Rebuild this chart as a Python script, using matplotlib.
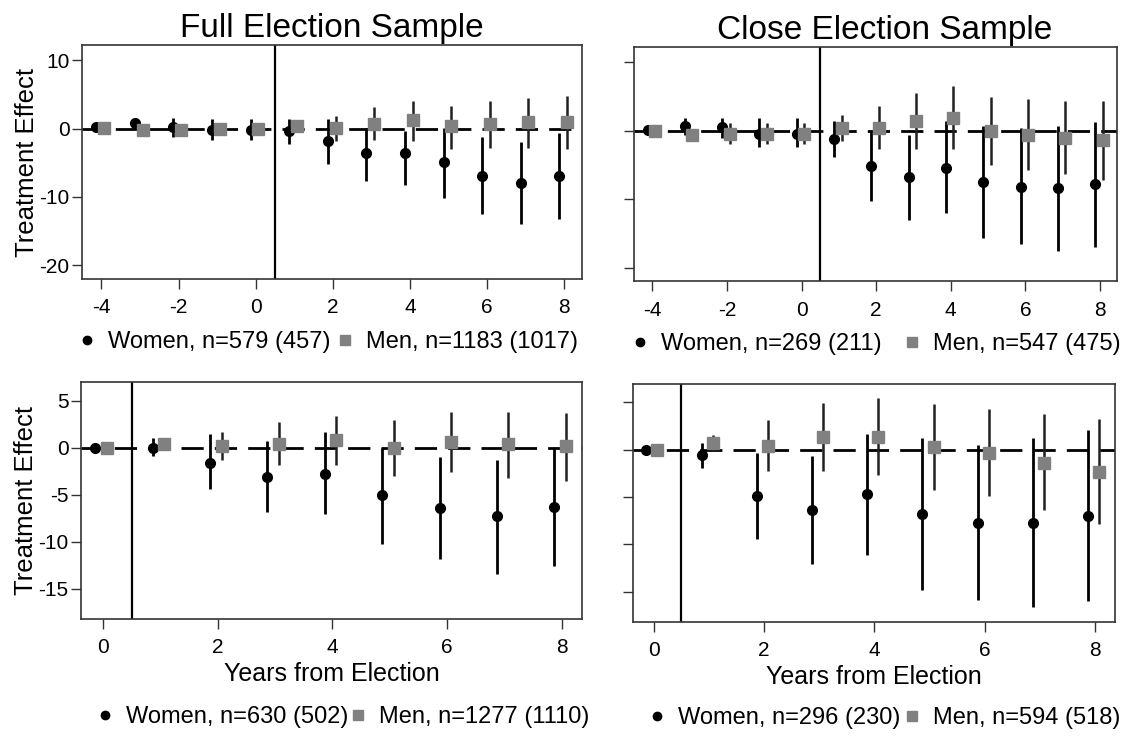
import matplotlib
matplotlib.use('Agg')
import numpy as np
from matplotlib import pyplot as plt
from matplotlib.lines import Line2D

plt.rcParams['font.family'] = ['Liberation Sans', 'DejaVu Sans']
plt.rcParams['axes.unicode_minus'] = False

# Full sample, years -4..8
full_t = [-4, -3, -2, -1, 0, 1, 2, 3, 4, 5, 6, 7, 8]
full_w = [0.2, 0.8, 0.3, -0.2, -0.2, -0.4, -1.8, -3.6, -3.6, -4.9, -7.0, -8.0, -7.0]
full_w_hi = [0.5, 1.2, 1.6, 1.4, 1.4, 1.4, 1.4, 0.1, -0.3, 0.1, -1.3, -1.9, -0.6]
full_w_lo = [-0.1, 0.4, -1.2, -1.7, -1.7, -2.3, -5.2, -7.7, -8.3, -10.2, -12.5, -14.0, -13.3]
full_m = [0.1, -0.2, -0.2, 0.0, 0.0, 0.4, 0.1, 0.7, 1.3, 0.4, 0.7, 1.0, 1.0]
full_m_hi = [0.4, 0.1, 0.3, 0.4, 0.4, 1.0, 1.9, 3.1, 4.1, 3.3, 4.1, 4.5, 4.7]
full_m_lo = [-0.2, -0.5, -0.6, -0.4, -0.4, -0.3, -1.8, -1.7, -1.8, -3.0, -2.8, -2.8, -3.0]

# Close sample, years -4..8
close_t = [-4, -3, -2, -1, 0, 1, 2, 3, 4, 5, 6, 7, 8]
close_w = [0.1, 0.7, 0.6, -0.4, -0.5, -1.2, -5.2, -6.8, -5.4, -7.5, -8.2, -8.3, -7.8]
close_w_hi = [0.4, 1.8, 1.8, 1.8, 1.8, 1.4, 0.0, -0.6, 1.4, 0.7, 0.4, 0.7, 1.3]
close_w_lo = [-0.2, -0.6, -1.0, -2.4, -2.4, -3.8, -10.3, -13.0, -12.0, -15.7, -16.6, -17.6, -17.0]
close_m = [0.0, -0.6, -0.5, -0.5, -0.5, 0.4, 0.4, 1.5, 1.9, 0.0, -0.6, -1.0, -1.35]
close_m_hi = [0.3, -0.3, 1.1, 1.1, 1.1, 2.3, 3.6, 5.5, 6.5, 4.9, 4.6, 4.3, 4.3]
close_m_lo = [-0.3, -0.9, -1.9, -1.9, -1.9, -1.5, -2.6, -2.6, -2.6, -5.0, -5.7, -6.3, -7.2]

# Full sample, years 0..8
full2_t = [0, 1, 2, 3, 4, 5, 6, 7, 8]
full2_w = [0.0, 0.0, -1.6, -3.1, -2.8, -5.0, -6.45, -7.3, -6.3]
full2_w_hi = [0.0, 1.05, 1.4, 0.7, 1.65, 0.0, -1.0, -1.3, 0.0]
full2_w_lo = [0.0, -0.9, -4.4, -6.8, -7.1, -10.2, -11.85, -13.4, -12.6]
full2_m = [0.0, 0.4, 0.15, 0.4, 0.8, 0.0, 0.6, 0.35, 0.15]
full2_m_hi = [0.0, 0.7, 1.65, 2.7, 3.35, 2.9, 3.8, 3.8, 3.7]
full2_m_lo = [0.0, 0.1, -1.35, -1.8, -1.8, -3.0, -2.6, -3.2, -3.5]

# Close sample, years 0..8
close2_t = [0, 1, 2, 3, 4, 5, 6, 7, 8]
close2_w = [0.0, -0.6, -4.9, -6.4, -4.7, -6.8, -7.7, -7.7, -7.0]
close2_w_hi = [0.0, 0.7, -0.35, -0.7, 1.7, 1.2, 0.5, 1.2, 2.1]
close2_w_lo = [0.0, -1.95, -9.45, -12.1, -11.1, -14.8, -15.9, -16.6, -16.0]
close2_m = [0.0, 0.7, 0.4, 1.4, 1.4, 0.3, -0.3, -1.4, -2.4]
close2_m_hi = [0.0, 1.6, 3.1, 4.9, 5.5, 4.8, 4.3, 3.8, 3.2]
close2_m_lo = [0.0, -0.05, -2.2, -2.2, -2.65, -4.3, -4.9, -6.35, -7.8]

legends = [
    ['Women, n=579 (457)', 'Men, n=1183 (1017)'],
    ['Women, n=269 (211)', 'Men, n=547 (475)'],
    ['Women, n=630 (502)', 'Men, n=1277 (1110)'],
    ['Women, n=296 (230)', 'Men, n=594 (518)'],
]

W, H = 1146, 740
fig = plt.figure(figsize=(W / 100, H / 100), dpi=100)

# [left, bottom, width, height] in figure fractions
boxes = [
    [0.0716, 0.623, 0.436, 0.316],
    [0.553, 0.620, 0.4215, 0.316],
    [0.0707, 0.1635, 0.437, 0.320],
    [0.552, 0.1595, 0.4206, 0.3216],
]
panels = [
    (full_t, full_w, full_w_lo, full_w_hi, full_m, full_m_lo, full_m_hi),
    (close_t, close_w, close_w_lo, close_w_hi, close_m, close_m_lo, close_m_hi),
    (full2_t, full2_w, full2_w_lo, full2_w_hi, full2_m, full2_m_lo, full2_m_hi),
    (close2_t, close2_w, close2_w_lo, close2_w_hi, close2_m, close2_m_lo, close2_m_hi),
]
# legend marker pixel positions: circle x, square x, y
leg_px = [(87, 345, 342), (640, 912, 344), (105, 358, 717), (657, 912, 718)]

h_w = Line2D([], [], ls='none', marker='o', color='black', ms=6)
h_m = Line2D([], [], ls='none', marker='s', color='#808080', ms=6.5)

for i in range(4):
    ax = fig.add_axes(boxes[i])
    t, w, wlo, whi, m, mlo, mhi = panels[i]
    t = np.array(t, dtype=float)
    tw = t - 0.13
    tm = t + 0.07

    ax.axhline(0, color='black', lw=2, dashes=(8, 4), zorder=1)
    ax.axvline(0.5, color='black', lw=1.6, zorder=1)

    ax.vlines(tw, wlo, whi, color='black', lw=2, zorder=2)
    ax.vlines(tm, mlo, mhi, color='#202020', lw=1.8, zorder=2)
    ax.plot(tw, w, 'o', color='black', ms=7, zorder=3)
    ax.plot(tm, m, 's', color='#808080', ms=9, zorder=4)

    if i < 2:
        ax.set_ylim(-22, 12.2)
        ax.set_yticks([-20, -10, 0, 10])
        ax.set_xlim(-4.5, 8.45)
        ax.set_xticks([-4, -2, 0, 2, 4, 6, 8])
    else:
        ax.set_ylim(-18.2, 6.95)
        ax.set_yticks([-15, -10, -5, 0, 5])
        ax.set_xlim(-0.38, 8.35)
        ax.set_xticks([0, 2, 4, 6, 8])
        ax.set_xlabel('Years from Election', fontsize=18, labelpad=3)

    if i % 2 == 0:
        ax.set_ylabel('Treatment Effect', fontsize=18.5, labelpad=0)
    else:
        ax.set_yticklabels([])

    ax.tick_params(axis='y', direction='out', length=7, width=1, labelsize=15,
                   colors='#333333', labelcolor='black', pad=2)
    ax.tick_params(axis='x', direction='out', length=7, width=1, labelsize=15,
                   colors='#333333', labelcolor='black', pad=7)
    for s in ax.spines.values():
        s.set_color('#333333')
        s.set_linewidth(1.2)

    if i == 0:
        ax.set_title('Full Election Sample', fontsize=24, pad=6)
    if i == 1:
        ax.set_title('Close Election Sample', fontsize=24, pad=6, x=0.52)

    cx, sx, ly = leg_px[i]
    for h, lab, px in [(h_w, legends[i][0], cx), (h_m, legends[i][1], sx)]:
        fig.legend(handles=[h], labels=[lab], loc='center left',
                   bbox_to_anchor=((px - 9.4) / W, 1 - ly / H),
                   frameon=False, fontsize=17, handlelength=0.8,
                   handletextpad=0.5, borderpad=0, borderaxespad=0)

fig.savefig('out.png', dpi=100)
